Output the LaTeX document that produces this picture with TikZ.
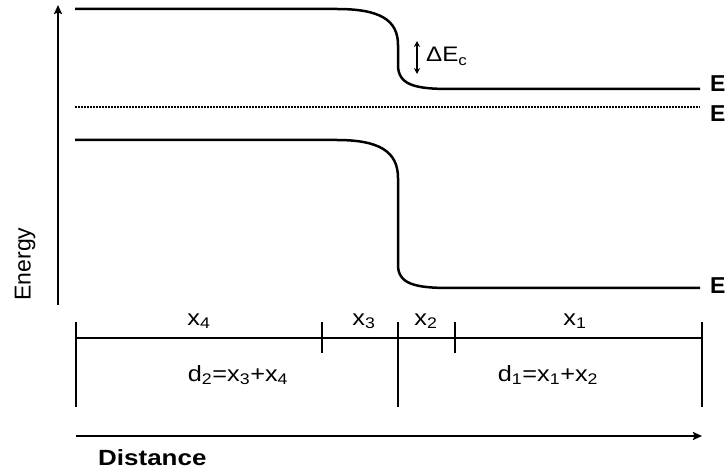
\documentclass[tikz,border=0pt]{standalone}
\usepackage{fontspec}
\setmainfont{Liberation Sans}
\usetikzlibrary{arrows.meta}
\tikzset{
  band/.style={line width=2.5pt, line join=round},
  scaleline/.style={line width=1.8pt},
  axisline/.style={line width=1.8pt, -{Stealth[length=9pt,width=8pt,inset=1.5pt]}},
  lbl/.style={inner sep=0pt, font=\fontsize{22}{26}\selectfont, xscale=1.15, anchor=base},
  elbl/.style={inner sep=0pt, font=\bfseries\fontsize{23}{26}\selectfont, anchor=west},
}
\begin{document}
\begin{tikzpicture}[x=1pt,y=-1pt]
\useasboundingbox (0,0) rectangle (728,470);
% energy axis
\coordinate (ybot) at (58,305);
\coordinate (ytop) at (58,5);
\draw[axisline] (ybot) -- (ytop);
\node[inner sep=0pt, font=\fontsize{23}{26}\selectfont, rotate=90] (energy) at (25,264) {Energy};
% conduction band
\draw[band] (75,9) -- (337,9) .. controls (380,9) and (398,20) .. (398,45) -- (398,65)
  .. controls (398,85) and (415,89) .. (450,89) -- (700,89);
% Fermi level
\draw[line width=1.8pt, dash pattern=on 1.6pt off 1.4pt] (75,107) -- (700,107);
% valence band
\draw[band] (75,140) -- (337,140) .. controls (380,140) and (398,152) .. (398,178) -- (398,265)
  .. controls (398,284) and (415,288) .. (450,288) -- (700,288);
% Delta E_c
\coordinate (dtop) at (417,41);
\coordinate (dbot) at (417,74);
\draw[line width=1.6pt, {Stealth[length=6pt,width=6pt]}-{Stealth[length=6pt,width=6pt]}] (dtop) -- (dbot);
\node[inner sep=0pt, font=\fontsize{21}{22}\selectfont, xscale=1.15, anchor=base west] (dec) at (426,62) {ΔE\textsubscript{c}};
% right labels
\node[elbl] (ec) at (710,84) {E};
\node[elbl] (ef) at (710,114) {E};
\node[elbl] (ev) at (710,286) {E};
% scale bar
\coordinate (s0t) at (76,322); \coordinate (s0b) at (76,407);
\coordinate (s1t) at (322,322); \coordinate (s1b) at (322,353);
\coordinate (s2t) at (398,322); \coordinate (s2b) at (398,407);
\coordinate (s3t) at (455,322); \coordinate (s3b) at (455,353);
\coordinate (s4t) at (702,322); \coordinate (s4b) at (702,407);
\coordinate (hl) at (76,338); \coordinate (hr) at (702,338);
\draw[scaleline] (hl) -- (hr);
\draw[scaleline] (s0t) -- (s0b);
\draw[scaleline] (s1t) -- (s1b);
\draw[scaleline] (s2t) -- (s2b);
\draw[scaleline] (s3t) -- (s3b);
\draw[scaleline] (s4t) -- (s4b);
\node[lbl] (x4) at (199,325) {x\textsubscript{4}};
\node[lbl] (x3) at (364,325) {x\textsubscript{3}};
\node[lbl] (x2) at (426,325) {x\textsubscript{2}};
\node[lbl] (x1) at (575,325) {x\textsubscript{1}};
\node[lbl] (d2) at (238,381) {d\textsubscript{2}=x\textsubscript{3}+x\textsubscript{4}};
\node[lbl] (d1) at (548,381) {d\textsubscript{1}=x\textsubscript{1}+x\textsubscript{2}};
% distance axis
\coordinate (xl) at (76,436);
\coordinate (xr) at (702,436);
\draw[axisline] (xl) -- (xr);
\node[inner sep=0pt, font=\bfseries\fontsize{22}{26}\selectfont, xscale=1.18, anchor=base west] (dist) at (98,465) {Distance};
\end{tikzpicture}
\end{document}
